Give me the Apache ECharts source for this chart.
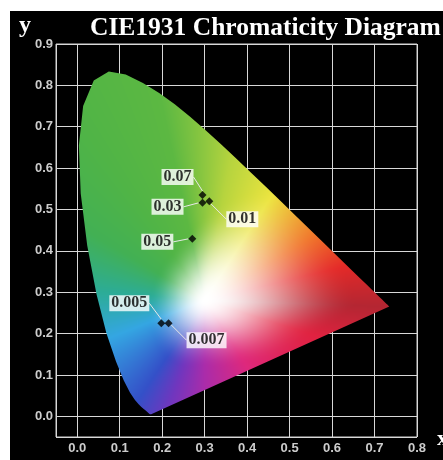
<!DOCTYPE html>
<html><head><meta charset="utf-8">
<script src="https://cdn.jsdelivr.net/npm/echarts@6/dist/echarts.min.js"></script>
<style>html,body{margin:0;padding:0;background:#fff}#c{position:absolute;left:10px;top:11px;width:433px;height:449px}</style>
</head><body><div id="c"></div>
<script>
// CIE 1931 2° spectral locus (380–700 nm)
const locusX = [0.1741,0.1740,0.1738,0.1736,0.1733,0.1730,0.1726,0.1721,0.1714,0.1703,0.1689,0.1669,0.1644,0.1611,0.1566,0.1510,0.1440,0.1355,0.1241,0.1096,0.0913,0.0687,0.0454,0.0235,0.0082,0.0039,0.0139,0.0389,0.0743,0.1142,0.1547,0.1929,0.2296,0.2658,0.3016,0.3373,0.3731,0.4087,0.4441,0.4788,0.5125,0.5448,0.5752,0.6029,0.6270,0.6482,0.6658,0.6801,0.6915,0.7006,0.7079,0.7140,0.7190,0.7230,0.7260,0.7283,0.7300,0.7311,0.7320,0.7334,0.7347];
const locusY = [0.0050,0.0050,0.0049,0.0049,0.0048,0.0048,0.0048,0.0048,0.0051,0.0058,0.0069,0.0086,0.0109,0.0138,0.0177,0.0227,0.0297,0.0399,0.0578,0.0868,0.1327,0.2007,0.2950,0.4127,0.5384,0.6548,0.7502,0.8120,0.8338,0.8262,0.8059,0.7816,0.7543,0.7243,0.6923,0.6589,0.6245,0.5896,0.5547,0.5202,0.4866,0.4544,0.4242,0.3965,0.3725,0.3514,0.3340,0.3197,0.3083,0.2993,0.2920,0.2859,0.2809,0.2770,0.2740,0.2717,0.2700,0.2689,0.2680,0.2666,0.2653];
// measured points
const pointLabels = ['0.07','0.03','0.01','0.05','0.005','0.007'];
const pointX = [0.295,0.295,0.311,0.271,0.198,0.215];
const pointY = [0.535,0.516,0.520,0.429,0.225,0.225];
// tick labels
const xTickLabels = ['0.0','0.1','0.2','0.3','0.4','0.5','0.6','0.7','0.8'];
const yTickLabels = ['0.0','0.1','0.2','0.3','0.4','0.5','0.6','0.7','0.8','0.9'];
// label placement (styling)
const labelDx = [-25,-35,33,-35,-32,38];
const labelDy = [-18,4,18,3,-20,17];

// colour styling of the diagram fill: hue anchors around the white point
const whiteX = 0.30, whiteY = 0.28;
const hueAngles = [-2, 14, 31, 58, 80, 102, 124, 149, 175, 202, 237, 252, 270, 302, 342];
const hueColors = [[180,38,50],[228,42,40],[240,115,40],[236,228,62],[182,212,62],[92,184,66],[80,180,70],[66,176,84],[44,172,150],[52,166,226],[52,80,200],[112,54,190],[170,44,170],[222,40,124],[224,34,64]];
const hueFade = [0.36, 0.34, 0.32, 0.32, 0.24, 0.17, 0.14, 0.13, 0.13, 0.14, 0.17, 0.17, 0.16, 0.18, 0.27];

function hueAt(deg) {
  const n = hueAngles.length;
  let a = ((deg % 360) + 360) % 360;
  for (let i = 0; i < n; i++) {
    const a0 = (hueAngles[i] + 360) % 360;
    let a1 = (hueAngles[(i + 1) % n] + 360) % 360;
    let span = a1 - a0; if (span <= 0) span += 360;
    let off = a - a0; if (off < 0) off += 360;
    if (off <= span) {
      const t = off / span, c0 = hueColors[i], c1 = hueColors[(i + 1) % n];
      return {c: [c0[0] + (c1[0]-c0[0])*t, c0[1] + (c1[1]-c0[1])*t, c0[2] + (c1[2]-c0[2])*t],
              f: hueFade[i] + (hueFade[(i + 1) % n] - hueFade[i]) * t};
    }
  }
  return {c: hueColors[0], f: hueFade[0]};
}
function colorAt(x, y) {
  const dx = x - whiteX, dy = y - whiteY;
  const d = Math.sqrt(dx*dx + dy*dy);
  const h = hueAt(Math.atan2(dy, dx) * 180 / Math.PI);
  let t = Math.min(1, d / h.f);
  t = t*t*(3 - 2*t);
  return [255 + (h.c[0]-255)*t, 255 + (h.c[1]-255)*t, 255 + (h.c[2]-255)*t];
}

let tex = null;
function buildTexture(api) {
  const w = api.getWidth(), h = api.getHeight();
  const a = api.coord([0, 0]), b = api.coord([1, 1]);
  const sx = b[0] - a[0], sy = b[1] - a[1];
  const cv = document.createElement('canvas');
  cv.width = w; cv.height = h;
  const ctx = cv.getContext('2d');
  const img = ctx.createImageData(w, h);
  for (let py = 0; py < h; py++) {
    for (let px = 0; px < w; px++) {
      const x = (px + 0.5 - a[0]) / sx, y = (py + 0.5 - a[1]) / sy;
      if (x < -0.03 || y < -0.03 || x > 0.8 || y > 0.9) continue;
      const c = colorAt(x, y);
      const k = (py*w + px)*4;
      img.data[k] = c[0]; img.data[k+1] = c[1]; img.data[k+2] = c[2]; img.data[k+3] = 255;
    }
  }
  ctx.putImageData(img, 0, 0);
  return cv;
}

const chart = echarts.init(document.getElementById('c'), null, {renderer: 'canvas'});
const labelFont = 'Liberation Sans';
chart.setOption({
  backgroundColor: '#000',
  animation: false,
  grid: {left: 46, top: 33, right: 26, bottom: 23, show: true, borderColor: '#cfcfcf', borderWidth: 1, backgroundColor: '#000'},
  xAxis: {
    type: 'value', min: -0.05, max: 0.8, splitNumber: 9, minInterval: 0.1, maxInterval: 0.1,
    axisLine: {show: false}, axisTick: {show: false},
    splitLine: {show: true, lineStyle: {color: '#d8d8d8', width: 1}},
    axisLabel: {color: '#cccccc', fontWeight: 'bold', fontSize: 13, fontFamily: labelFont, margin: 5,
      formatter: v => { const s = v.toFixed(1); return (v >= -1e-9 && xTickLabels.indexOf(s) >= 0) ? s : ''; }}
  },
  yAxis: {
    type: 'value', min: -0.05, max: 0.9, splitNumber: 10, minInterval: 0.1, maxInterval: 0.1,
    axisLine: {show: false}, axisTick: {show: false},
    splitLine: {show: true, lineStyle: {color: '#d8d8d8', width: 1}},
    axisLabel: {color: '#cccccc', fontWeight: 'bold', fontSize: 13, fontFamily: labelFont, margin: 3,
      formatter: v => { const s = v.toFixed(1); return (v >= -1e-9 && yTickLabels.indexOf(s) >= 0) ? s : ''; }}
  },
  graphic: [
    {type: 'text', x: 80, y: 17, style: {text: 'CIE1931 Chromaticity Diagram', fill: '#fff', font: 'bold 25.5px "Liberation Serif"', verticalAlign: 'middle'}, z: 100},
    {type: 'text', x: 9, y: 15, style: {text: 'y', fill: '#fff', font: 'bold 24px "Liberation Serif"', verticalAlign: 'middle'}, z: 100},
    {type: 'text', x: 427, y: 428, style: {text: 'x', fill: '#fff', font: 'bold 22px "Liberation Serif"', verticalAlign: 'middle'}, z: 100}
  ],
  series: [
    {
      type: 'custom', silent: true, z: 1,
      data: [[0, 0]],
      renderItem: function (params, api) {
        if (!tex) tex = buildTexture(api);
        const pts = locusX.map((x, i) => api.coord([x, locusY[i]]));
        return {type: 'polygon', shape: {points: pts}, style: {fill: {image: tex, repeat: 'no-repeat'}}};
      }
    },
    {
      type: 'scatter', z: 5,
      symbol: 'diamond', symbolSize: 8,
      itemStyle: {color: '#000'},
      data: pointX.map((x, i) => [x, pointY[i]]),
      label: {
        show: true, position: 'inside',
        formatter: p => pointLabels[p.dataIndex],
        color: '#000', backgroundColor: '#fff', padding: [1, 2, 0, 2], lineHeight: 15,
        fontFamily: 'Liberation Serif', fontWeight: 'bold', fontSize: 16
      },
      labelLine: {show: true, lineStyle: {color: '#e8e8e8', width: 1}},
      labelLayout: p => ({dx: labelDx[p.dataIndex], dy: labelDy[p.dataIndex]})
    }
  ]
});
</script></body></html>
